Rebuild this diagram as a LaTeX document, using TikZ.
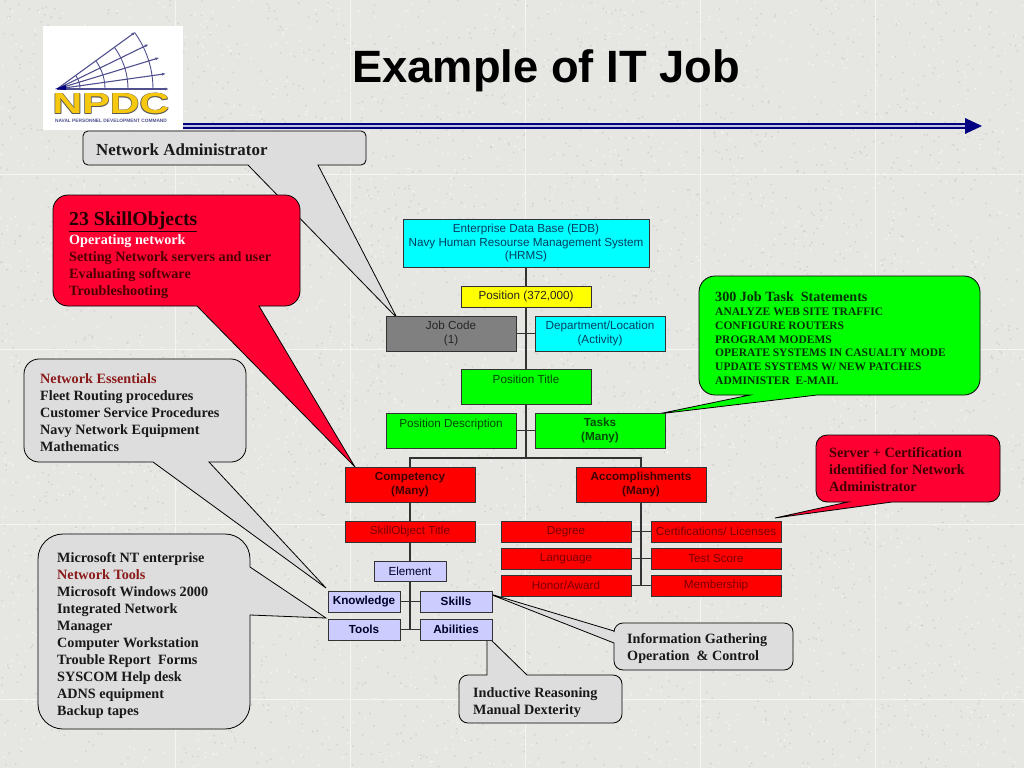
\documentclass[tikz,border=0pt]{standalone}
\usepackage{fontspec}
\setmainfont{Liberation Serif}
\setsansfont{Liberation Sans}
\usepackage{tikz}
\usetikzlibrary{arrows.meta}
\definecolor{paper}{HTML}{E6E6E2}
\definecolor{speck}{HTML}{D2D2CE}
\definecolor{glint}{HTML}{F4F4F2}
\definecolor{shell}{HTML}{DDDDDD}
\definecolor{alert}{HTML}{FF0033}
\definecolor{lime}{HTML}{00FF00}
\definecolor{aqua}{HTML}{00FFFF}
\definecolor{sun}{HTML}{FFFF00}
\definecolor{gold}{HTML}{F6C80F}
\definecolor{navyline}{HTML}{000080}
\definecolor{fanblue}{HTML}{50508F}
\definecolor{lilac}{HTML}{CCCCFF}
\definecolor{maroon}{HTML}{8B1A1A}
\definecolor{linkgray}{HTML}{333333}
\definecolor{redink}{HTML}{7A0000}
\definecolor{greenink}{HTML}{004800}
\definecolor{aquaink}{HTML}{004060}
\tikzset{
  jobbox/.style={draw=black!80, line width=0.9pt, inner sep=0pt, align=center,
    font=\sffamily\fontsize{11.7}{13.6}\selectfont, minimum width=130, minimum height=35},
  flatbox/.style={jobbox, minimum height=21},
  cyanbox/.style={jobbox, fill=aqua, text=aquaink},
  limebox/.style={jobbox, fill=lime, text=greenink},
  redbox/.style={jobbox, fill=red, text=redink},
  headbox/.style={jobbox, fill=red, text=black!75!red, font=\sffamily\bfseries\fontsize{11.7}{13.6}\selectfont},
  paleox/.style={jobbox, fill=lilac, minimum width=72, minimum height=21, text=black!85!blue},
  boldox/.style={paleox, font=\sffamily\bfseries\fontsize{11.7}{13.6}\selectfont},
  link/.style={draw=linkgray, line width=1.3pt},
  bubble/.style={draw=black, line width=0.8pt},
  bubbletext/.style={anchor=north west, inner sep=0pt, align=left, text=black!90,
    font=\bfseries\fontsize{14.2}{17}\selectfont},
}
\def\nicewhite#1{\textcolor{white}{#1}}
\def\nicemaroon#1{\textcolor{maroon}{#1}}
\begin{document}
\begin{tikzpicture}[x=1pt,y=-1pt]
\useasboundingbox (0,0) rectangle (1024,768);
% paper
\fill[paper] (0,0) rectangle (1024,768);
\pgfmathsetseed{11}
\foreach \i in {1,...,3000} {
  \fill[speck] ({rnd*1024},{rnd*768}) circle (1.0);
  \fill[glint] ({rnd*1024},{rnd*768}) circle (1.0);
}
\foreach \k in {175,350,525,700,875} \draw[glint, line width=0.6pt] (\k,0) -- (\k,768);
\foreach \k in {174,349,524,699} \draw[glint, line width=0.6pt] (0,\k) -- (1024,\k);
% logo
\fill[white] (43,26) rectangle (183,130);
\coordinate (fan) at (57,89);
\foreach \a/\r in {36/97,26/102,17/107,8/110,0/112} {
  \draw[fanblue, line width=1.1pt, -{Latex[length=4pt,width=3pt]}] (fan) -- ++({\r*cos(\a)},{-\r*sin(\a)});
}
\foreach \r in {23,48,71,96} {
  \draw[fanblue, line width=0.9pt] plot[domain=0:36,samples=12] ({57+\r*cos(\x)},{89-\r*sin(\x)});
}
\fill[navyline] (55,89) -- (66,85) -- (66,90) -- cycle;
\foreach \n/\dx/\dy in {a/-0.6/-0.5,b/0.6/-0.5,c/-0.6/0.5,d/0.6/0.5} {
  \node (npdcshade\n) at (111+\dx,104+\dy) [inner sep=0pt, xscale=1.42, text=black!65, font=\sffamily\bfseries\fontsize{29}{29}\selectfont] {NPDC};
}
\node (npdc) at (111,104) [inner sep=0pt, xscale=1.42, text=gold, font=\sffamily\bfseries\fontsize{29}{29}\selectfont] {NPDC};
\node (npdcname) at (111,120.5) [inner sep=0pt, text=fanblue, font=\sffamily\bfseries\fontsize{4.8}{5}\selectfont] {NAVAL PERSONNEL DEVELOPMENT COMMAND};
% title and rule
\node (title) at (546,71) [inner sep=0pt, font=\sffamily\bfseries\fontsize{45.3}{48}\selectfont] {Example of IT Job};
\coordinate (rulefrom) at (183,126);
\coordinate (ruleto) at (966,126);
\draw[navyline, line width=2.2pt, double=white!75!navyline, double distance=2.4pt] (rulefrom) -- (ruleto);
\fill[navyline] (965,118) -- (982,126) -- (965,134) -- cycle;
% callouts behind the chart
\coordinate (tipadmin) at (397,318);
\coordinate (tipskill) at (355,467);
\coordinate (tipessen) at (326,588);
\coordinate (tiptools) at (326,618);
\coordinate (tiptask) at (658,414);
\coordinate (tipcert) at (775,518);
\coordinate (tipinfo) at (487,593);
\coordinate (tipinduct) at (487,636);
\draw[bubble, fill=shell] (318,165) -- (tipadmin) -- (248,165) [rounded corners=5] -- (83,165) -- (83,131) -- (366,131) -- (366,165) [sharp corners] -- cycle;
\draw[bubble, fill=alert] (259,306) -- (tipskill) -- (197,306) [rounded corners=15] -- (53,306) -- (53,195) -- (300,195) -- (300,306) [sharp corners] -- cycle;
\draw[bubble, fill=shell] (209,462) -- (tipessen) -- (153,462) [rounded corners=15] -- (24,462) -- (24,359) -- (246,359) -- (246,462) [sharp corners] -- cycle;
\draw[bubble, fill=shell] (250,615) -- (tiptools) -- (250,567) [rounded corners=25] -- (250,534) -- (38,534) -- (38,729) -- (250,729) [sharp corners] -- cycle;
\draw[bubble, fill=lime] (817,395) -- (tiptask) -- (750,395) [rounded corners=16] -- (699,395) -- (699,276) -- (980,276) -- (980,395) [sharp corners] -- cycle;
\draw[bubble, fill=alert] (892,502) -- (tipcert) -- (848,502) [rounded corners=11] -- (816,502) -- (816,435) -- (1000,435) -- (1000,502) [sharp corners] -- cycle;
\draw[bubble, fill=shell] (614,643) -- (tipinfo) -- (614,631) [rounded corners=9] -- (614,623) -- (793,623) -- (793,670) -- (614,670) [sharp corners] -- cycle;
\draw[bubble, fill=shell] (527,675) -- (tipinduct) -- (487,675) [rounded corners=9] -- (459,675) -- (459,723) -- (622,723) -- (622,675) [sharp corners] -- cycle;
% callout texts
\node (admintext) at (96,143.5) [bubbletext, font=\bfseries\fontsize{16.9}{18}\selectfont] {Network Administrator};
\node (skilltitle) at (69,211.5) [bubbletext, font=\bfseries\fontsize{19.8}{21}\selectfont, text=black!85!red] {\underline{23 SkillObjects}};
\node (skilltext) at (69,234) [bubbletext, text=red!30!black] {\nicewhite{Operating network}\\Setting Network servers and user\\Evaluating software\\Troubleshooting};
\node (essentext) at (40,373) [bubbletext] {\nicemaroon{Network Essentials}\\Fleet Routing procedures\\Customer Service Procedures\\Navy Network Equipment\\Mathematics};
\node (toolstext) at (57,552) [bubbletext] {Microsoft NT enterprise\\\nicemaroon{Network Tools}\\Microsoft Windows 2000\\Integrated Network\\Manager\\Computer Workstation\\Trouble Report~ Forms\\SYSCOM Help desk\\ADNS equipment\\Backup tapes};
\node (tasktitle) at (715,291.5) [bubbletext, text=green!20!black, font=\bfseries\fontsize{14.1}{15}\selectfont] {300 Job Task~ Statements};
\node (tasktext) at (715,308) [bubbletext, text=green!20!black, font=\bfseries\fontsize{11.5}{13.65}\selectfont] {ANALYZE WEB SITE TRAFFIC\\CONFIGURE ROUTERS\\PROGRAM MODEMS\\OPERATE SYSTEMS IN CASUALTY MODE\\UPDATE SYSTEMS W/ NEW PATCHES\\ADMINISTER~ E-MAIL};
\node (certtext) at (829,447) [bubbletext, text=red!25!black, font=\bfseries\fontsize{14.2}{17.3}\selectfont] {Server + Certification\\identified for Network\\Administrator};
\node (infotext) at (627,633.5) [bubbletext] {Information Gathering\\Operation~ \& Control};
\node (inducttext) at (473,687) [bubbletext] {Inductive Reasoning\\Manual Dexterity};
% chart
\node (edb) at (526,243) [cyanbox, minimum width=246, minimum height=48] {Enterprise Data Base (EDB)\\Navy Human Resourse Management System\\(HRMS)};
\node (position) at (526,296.5) [flatbox, fill=sun, text=black!85] {Position (372,000)};
\node (jobcode) at (451,333.5) [jobbox, fill=gray, text=black!85] {Job Code\\(1)};
\node (dept) at (600,333.5) [cyanbox] {Department/Location\\(Activity)};
\node (postitle) at (526,386.5) [limebox] {Position Title\\\mbox{}};
\node (posdesc) at (451,430.5) [limebox] {Position Description\\\mbox{}};
\node (tasks) at (600,430.5) [limebox, text=black!70!green, font=\sffamily\bfseries\fontsize{11.7}{13.6}\selectfont] {Tasks\\(Many)};
\node (comp) at (410,484.5) [headbox] {Competency\\(Many)};
\node (accomp) at (641,484.5) [headbox] {Accomplishments\\(Many)};
\node (sotitle) at (410,531.5) [redbox, minimum height=21] {SkillObject Title};
\node (element) at (410,571) [paleox, minimum height=20] {Element};
\node (know) at (364,601.5) [boldox] {Knowledge};
\node (skills) at (456,601.5) [boldox] {Skills};
\node (tools) at (364,629.5) [boldox] {Tools};
\node (abil) at (456,629.5) [boldox] {Abilities};
\node (degree) at (566,531.5) [redbox, minimum height=21] {Degree};
\node (lang) at (566,558.5) [redbox, minimum height=21] {Language};
\node (honor) at (566,585.5) [redbox, minimum height=21] {Honor/Award};
\node (cert) at (716,531.5) [redbox, minimum height=21] {Certifications/ Licenses};
\node (score) at (716,558.5) [redbox, minimum height=21] {Test Score};
\node (member) at (716,585.5) [redbox, minimum height=21] {Membership};
% connectors
\draw[link] (edb.south) -- (position.north);
\draw[link] (position.south) -- (postitle.north);
\draw[link] (jobcode.east) -- (dept.west);
\draw[link] (postitle.south) -- (526,458) coordinate (fork);
\draw[link] (posdesc.east) -- (tasks.west);
\draw[link] (comp.north) |- (fork) -| (accomp.north);
\draw[link] (comp.south) -- (sotitle.north);
\draw[link] (sotitle.south) -- (element.north);
\draw[link] (element.south) -- (410,629.5);
\draw[link] (know.east) -- (skills.west);
\draw[link] (tools.east) -- (abil.west);
\draw[link] (accomp.south) -- (641,585.5);
\draw[link] (degree.east) -- (cert.west);
\draw[link] (lang.east) -- (score.west);
\draw[link] (honor.east) -- (member.west);
\end{tikzpicture}
\end{document}
